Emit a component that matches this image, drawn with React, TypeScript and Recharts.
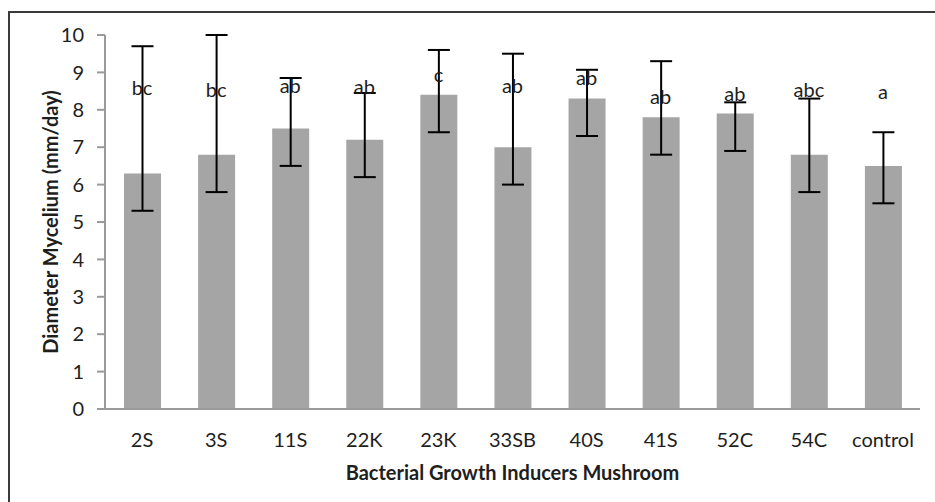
import React from 'react';
import { ComposedChart, Bar, Line, XAxis, YAxis, ErrorBar, LabelList } from 'recharts';

const categories = ['2S', '3S', '11S', '22K', '23K', '33SB', '40S', '41S', '52C', '54C', 'control'];
const means = [6.3, 6.8, 7.5, 7.2, 8.4, 7.0, 8.3, 7.8, 7.9, 6.8, 6.5];
const errLow = [1.0, 1.0, 1.0, 1.0, 1.0, 1.0, 1.0, 1.0, 1.0, 1.0, 1.0];
const errHigh = [3.4, 3.2, 1.35, 1.25, 1.2, 2.5, 0.77, 1.5, 0.3, 1.5, 0.9];
const letters = ['bc', 'bc', 'ab', 'ab', 'c', 'ab', 'ab', 'ab', 'ab', 'abc', 'a'];
const letterPos = [8.6, 8.55, 8.65, 8.63, 8.95, 8.67, 8.88, 8.36, 8.44, 8.56, 8.5];
const yTicks = [0, 1, 2, 3, 4, 5, 6, 7, 8, 9, 10];

const data = categories.map((c, i) => ({
  name: c,
  mean: means[i],
  err: [errLow[i], errHigh[i]],
  letter: letters[i],
  letterY: letterPos[i],
}));

const FONT = 'Lato, "Open Sans", sans-serif';
const TEXT = '#1e1e1e';
const AXIS = '#9a9a9a';

const LetterLabel = (props: any) => {
  const { x, y, value } = props;
  return (
    <text x={x} y={y} textAnchor="middle" dominantBaseline="central" fontFamily={FONT} fontSize={20} fill={TEXT}>
      {value}
    </text>
  );
};

const YTitle = (props: any) => {
  const vb = props.viewBox;
  const cx = vb.x + 50;
  const cy = vb.y + vb.height / 2;
  return (
    <text x={cx} y={cy} transform={`rotate(-90, ${cx}, ${cy})`} textAnchor="middle" dominantBaseline="central"
      fontFamily={FONT} fontWeight="bold" fontSize={20} fill={TEXT}>
      Diameter Mycelium (mm/day)
    </text>
  );
};

const XTitle = (props: any) => {
  const vb = props.viewBox;
  const cx = vb.x + vb.width / 2;
  const cy = vb.y + 63;
  return (
    <text x={cx} y={cy} textAnchor="middle" dominantBaseline="central"
      fontFamily={FONT} fontWeight="bold" fontSize={20} fill={TEXT}>
      Bacterial Growth Inducers Mushroom
    </text>
  );
};

export default function App() {
  return (
    <div style={{ position: 'absolute', left: 0, top: 0, width: 935, height: 502, overflow: 'hidden', background: '#fff' }}>
      <div style={{ position: 'absolute', left: 8, top: 11, width: 2000, height: 2000, borderLeft: '2px solid #3a3a3a', borderTop: '2px solid #3a3a3a' }} />
      <div style={{ position: 'absolute', left: 0, top: 0 }}>
        <ComposedChart width={935} height={502} data={data} margin={{ top: 35, right: 15, left: 0, bottom: 0 }}>
          <XAxis
            dataKey="name"
            height={93}
            tickLine={false}
            tickSize={0}
            tickMargin={24}
            axisLine={{ stroke: AXIS, strokeWidth: 2 }}
            tick={{ fontFamily: FONT, fontSize: 20, fill: TEXT }}
            interval={0}
            label={<XTitle />}
          />
          <YAxis
            width={105}
            domain={[0, 10]}
            ticks={yTicks}
            allowDataOverflow
            tickSize={8}
            tickMargin={13}
            axisLine={{ stroke: AXIS, strokeWidth: 2 }}
            tickLine={{ stroke: AXIS, strokeWidth: 2 }}
            tick={{ fontFamily: FONT, fontSize: 20, fill: TEXT }}
            label={<YTitle />}
          />
          <Bar dataKey="mean" fill="#a5a5a5" barSize={37} isAnimationActive={false}>
            <ErrorBar dataKey="err" direction="y" stroke="#000" strokeWidth={2} width={11} isAnimationActive={false} />
          </Bar>
          <Line dataKey="letterY" stroke="none" dot={false} activeDot={false} isAnimationActive={false}>
            <LabelList dataKey="letter" content={<LetterLabel />} />
          </Line>
        </ComposedChart>
      </div>
    </div>
  );
}
